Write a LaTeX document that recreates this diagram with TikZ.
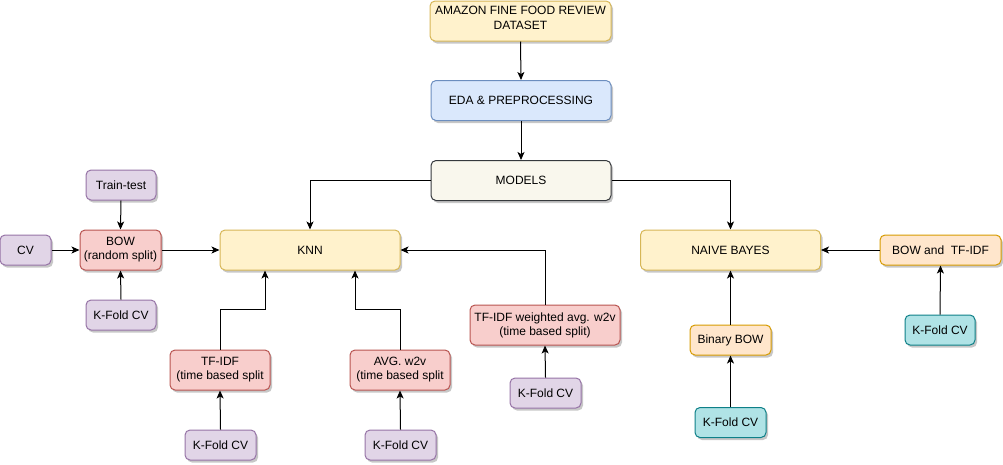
\documentclass[tikz,border=0pt]{standalone}
\usepackage{fontspec}
\setmainfont{Liberation Sans}
\usetikzlibrary{arrows.meta,shadows}
\definecolor{yfill}{HTML}{FFF2CC}\definecolor{ydraw}{HTML}{D6B656}
\definecolor{bfill}{HTML}{DAE8FC}\definecolor{bdraw}{HTML}{6C8EBF}
\definecolor{gfill}{HTML}{F9F7ED}\definecolor{gdraw}{HTML}{36393D}
\definecolor{rfill}{HTML}{F8CECC}\definecolor{rdraw}{HTML}{B85450}
\definecolor{pfill}{HTML}{E1D5E7}\definecolor{pdraw}{HTML}{9673A6}
\definecolor{ofill}{HTML}{FFE6CC}\definecolor{odraw}{HTML}{D79B00}
\definecolor{tfill}{HTML}{B0E3E6}\definecolor{tdraw}{HTML}{0E8088}
\tikzset{
  box/.style={rectangle,rounded corners=5pt,line width=1pt,inner sep=0pt,align=center,
    font=\fontsize{12}{14}\selectfont,
    drop shadow={shadow xshift=2pt,shadow yshift=-2.5pt,fill=black,opacity=0.22}},
  ybox/.style={box,fill=yfill,draw=ydraw},
  bbox/.style={box,fill=bfill,draw=bdraw},
  gbox/.style={box,fill=gfill,draw=gdraw},
  rbox/.style={box,fill=rfill,draw=rdraw},
  pbox/.style={box,fill=pfill,draw=pdraw},
  obox/.style={box,fill=ofill,draw=odraw},
  tbox/.style={box,fill=tfill,draw=tdraw},
  conn/.style={line width=1pt,-{Stealth[length=8pt,width=7pt,inset=2pt]}}
}
\begin{document}
\begin{tikzpicture}[x=1pt,y=1pt]
\useasboundingbox (0,0) rectangle (1003,-464);
\node[ybox,minimum width=181pt,minimum height=40pt] (amazon) at (520.5,-21) {};
\node[font=\fontsize{12}{15}\selectfont,align=center] at (520.5,-18) {AMAZON FINE FOOD REVIEW\\DATASET};
\node[bbox,minimum width=180pt,minimum height=40pt] (eda) at (521,-100.5) {EDA \& PREPROCESSING};
\node[gbox,minimum width=180pt,minimum height=40pt] (models) at (521,-180.5) {MODELS};
\node[ybox,minimum width=180pt,minimum height=40pt] (knn) at (310,-250) {KNN};
\node[rbox,minimum width=81pt,minimum height=40pt] (bow) at (120.5,-250) {BOW\\(random split)};
\node[pbox,minimum width=70pt,minimum height=30pt] (train) at (121,-185) {Train-test};
\node[pbox,minimum width=51pt,minimum height=30pt] (cv) at (25.5,-250) {CV};
\node[pbox,minimum width=70pt,minimum height=30pt] (kf1) at (121,-315) {K-Fold CV};
\node[rbox,minimum width=100pt,minimum height=40pt] (tfidf) at (220,-370) {TF-IDF\\(time based split};
\node[rbox,minimum width=100pt,minimum height=40pt] (avg) at (400,-370) {AVG. w2v\\(time based split};
\node[rbox,minimum width=150pt,minimum height=40pt] (wavg) at (545,-325) {TF-IDF weighted avg. w2v\\(time based split)};
\node[pbox,minimum width=71pt,minimum height=30pt] (kf2) at (220.5,-445) {K-Fold CV};
\node[pbox,minimum width=71pt,minimum height=30pt] (kf3) at (400.5,-445) {K-Fold CV};
\node[pbox,minimum width=71pt,minimum height=30pt] (kf4) at (545.5,-393) {K-Fold CV};
\node[ybox,minimum width=180pt,minimum height=40pt] (nb) at (730.5,-250) {NAIVE BAYES};
\node[obox,minimum width=121pt,minimum height=30pt] (bowtf) at (940.5,-250) {BOW and~ TF-IDF};
\node[tbox,minimum width=70pt,minimum height=30pt] (kf5) at (940,-330) {K-Fold CV};
\node[obox,minimum width=81pt,minimum height=30pt] (binbow) at (730.5,-340) {Binary BOW};
\node[tbox,minimum width=71pt,minimum height=30pt] (kf6) at (730.5,-422.5) {K-Fold CV};

\draw[conn] (amazon.south) -- (eda.north);
\draw[conn] (eda.south) -- (models.north);
\draw[conn] (models.west) -| (knn.north);
\draw[conn] (models.east) -| (nb.north);
\draw[conn] (train.south) -- (bow.north);
\draw[conn] (cv.east) -- (bow.west);
\draw[conn] (kf1.north) -- (bow.south);
\draw[conn] (bow.east) -- (knn.west);
\draw[conn] (tfidf.north) -- ++(0,40) -| ([xshift=-45pt]knn.south);
\draw[conn] (avg.north) -- ++(0,40) -| ([xshift=45pt]knn.south);
\draw[conn] (wavg.north) |- (knn.east);
\draw[conn] (kf2.north) -- (tfidf.south);
\draw[conn] (kf3.north) -- (avg.south);
\draw[conn] (kf4.north) -- (wavg.south);
\draw[conn] (bowtf.west) -- (nb.east);
\draw[conn] (kf5.north) -- (bowtf.south);
\draw[conn] (binbow.north) -- (nb.south);
\draw[conn] (kf6.north) -- (binbow.south);
\end{tikzpicture}
\end{document}
